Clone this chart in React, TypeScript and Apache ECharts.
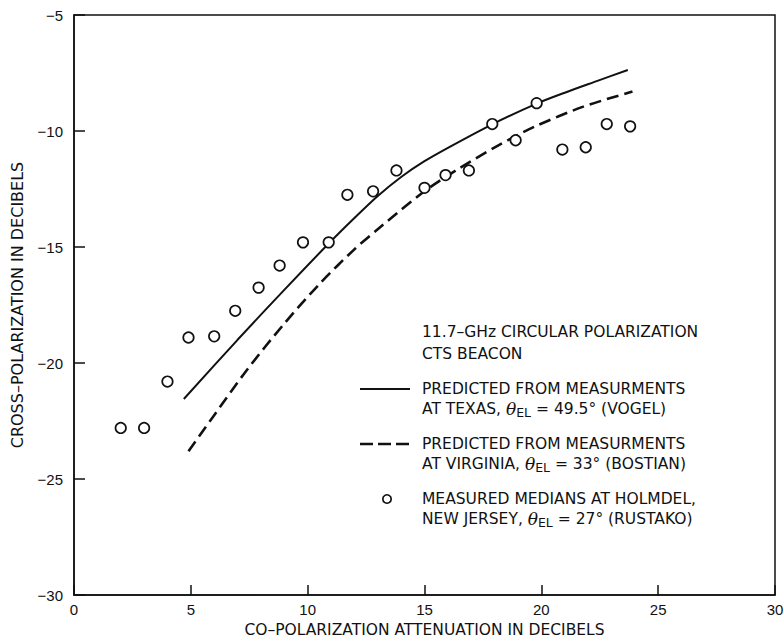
import React, { useEffect, useRef } from "react";
import * as echarts from "echarts";

// ---- data ----
const xTicks = [0, 5, 10, 15, 20, 25, 30];
const yTicks = [-30, -25, -20, -15, -10, -5];

// Measured medians at Holmdel (circles)
const measuredX = [2, 3, 4, 4.9, 6, 6.9, 7.9, 8.8, 9.8, 10.9, 11.7, 12.8, 13.8, 15, 15.9, 16.9, 17.9, 18.9, 19.8, 20.9, 21.9, 22.8, 23.8];
const measuredY = [-22.8, -22.8, -20.8, -18.9, -18.85, -17.75, -16.75, -15.8, -14.8, -14.8, -12.75, -12.6, -11.7, -12.45, -11.9, -11.7, -9.7, -10.4, -8.8, -10.8, -10.7, -9.7, -9.8];

// Predicted, Texas (Vogel) - solid
const texasX = [4.7, 7, 9, 10.9, 12, 13, 14, 15, 16.1, 17.9, 19.8, 21, 22.4, 23.7];
const texasY = [-21.55, -19.0, -16.85, -14.85, -13.75, -12.8, -11.98, -11.3, -10.67, -9.71, -8.82, -8.35, -7.84, -7.37];

// Predicted, Virginia (Bostian) - dashed
const virginiaX = [4.9, 6, 7.4, 9, 10.5, 12, 13.1, 15, 16.5, 18.2, 19.7, 21.8, 23.9];
const virginiaY = [-23.8, -22.25, -20.3, -18.3, -16.6, -15.1, -14.15, -12.6, -11.6, -10.6, -9.82, -8.95, -8.3];

const xTitle = "CO\u2013POLARIZATION ATTENUATION IN DECIBELS";
const yTitle = "CROSS\u2013POLARIZATION IN DECIBELS";
const legendHeader = ["11.7\u2013GHz CIRCULAR POLARIZATION", "CTS BEACON"];
const legendSolid = ["PREDICTED FROM MEASURMENTS", "AT TEXAS, ", " = 49.5\u00B0 (VOGEL)"];
const legendDashed = ["PREDICTED FROM MEASURMENTS", "AT VIRGINIA, ", " = 33\u00B0 (BOSTIAN)"];
const legendCircle = ["MEASURED MEDIANS AT HOLMDEL,", "NEW JERSEY, ", " = 27\u00B0 (RUSTAKO)"];

const zip = (xs: number[], ys: number[]) => xs.map((x, i) => [x, ys[i]]);

const FONT = "'Liberation Sans', Arial, Helvetica, sans-serif";
const LFONT = "'DejaVu Sans', 'Liberation Sans', sans-serif";

const richStyles = {
  a: { fontSize: 15.5, fontFamily: LFONT, fill: "#111", lineHeight: 20, verticalAlign: "middle" },
  t: { fontSize: 17, fontFamily: "'DejaVu Serif', serif", fontStyle: "italic", fill: "#111", lineHeight: 20, verticalAlign: "middle" },
  s: { fontSize: 12.5, fontFamily: LFONT, fill: "#111", lineHeight: 20, verticalAlign: "bottom" },
};

function legendText(x: number, y: number, lines: string[]) {
  return {
    type: "text",
    x,
    y,
    style: {
      text: `{a|${lines[0]}}\n{a|${lines[1]}}{t|\u03B8}{s|EL}{a|${lines[2]}}`,
      rich: richStyles,
      verticalAlign: "middle",
    },
  };
}

export default function App() {
  const ref = useRef<HTMLDivElement>(null);
  useEffect(() => {
    document.body.style.margin = "0";
    if (!ref.current) return;
    const chart = echarts.init(ref.current, undefined, { renderer: "svg" });
    const minus = (v: number) => String(v).replace("-", "\u2212");
    chart.setOption({
      animation: false,
      backgroundColor: "#fff",
      grid: {
        left: 74,
        right: 9,
        top: 15,
        bottom: 44,
        containLabel: false,
        outerBoundsMode: "none",
        show: true,
        borderColor: "#111",
        borderWidth: 1.5,
      },
      xAxis: {
        type: "value",
        min: xTicks[0],
        max: xTicks[xTicks.length - 1],
        interval: 5,
        name: xTitle,
        nameLocation: "middle",
        nameGap: 26,
        nameTextStyle: { fontSize: 15.5, fontFamily: LFONT, color: "#111" },
        axisLine: { show: true, lineStyle: { color: "#111", width: 1.5 } },
        axisTick: { show: true, inside: true, length: 10, lineStyle: { color: "#111", width: 1.5 } },
        axisLabel: { fontSize: 15, fontFamily: FONT, color: "#111", margin: 7 },
        splitLine: { show: false },
      },
      yAxis: {
        type: "value",
        min: yTicks[0],
        max: yTicks[yTicks.length - 1],
        interval: 5,
        name: yTitle,
        nameLocation: "middle",
        nameGap: 49,
        nameTextStyle: { fontSize: 16, fontFamily: LFONT, color: "#111" },
        axisLine: { show: true, lineStyle: { color: "#111", width: 1.5 } },
        axisTick: { show: true, inside: true, length: 11, lineStyle: { color: "#111", width: 1.5 } },
        axisLabel: { fontSize: 15, fontFamily: FONT, color: "#111", margin: 11, formatter: minus },
        splitLine: { show: false },
      },
      series: [
        {
          type: "line",
          data: zip(texasX, texasY),
          smooth: 0.3,
          showSymbol: false,
          symbol: "none",
          lineStyle: { color: "#111", width: 2 },
          z: 2,
        },
        {
          type: "line",
          data: zip(virginiaX, virginiaY),
          smooth: 0.3,
          showSymbol: false,
          symbol: "none",
          lineStyle: { color: "#111", width: 2.6, type: [12, 6] },
          z: 2,
        },
        {
          type: "scatter",
          data: zip(measuredX, measuredY),
          symbol: "circle",
          symbolSize: 10.5,
          itemStyle: { color: "#fff", borderColor: "#111", borderWidth: 1.7, opacity: 1 },
          z: 3,
        },
      ],
      graphic: [
        {
          type: "text",
          x: 422,
          y: 343,
          style: {
            text: legendHeader.join("\n"),
            font: `15.5px ${LFONT}`,
            fill: "#111",
            lineHeight: 22,
            verticalAlign: "middle",
          },
        },
        { type: "line", shape: { x1: 360, y1: 389, x2: 410, y2: 389 }, style: { stroke: "#111", lineWidth: 2 } },
        legendText(422, 399, legendSolid),
        { type: "line", shape: { x1: 360, y1: 444, x2: 410, y2: 444 }, style: { stroke: "#111", lineWidth: 2.6, lineDash: [13, 5] } },
        legendText(422, 454, legendDashed),
        { type: "circle", shape: { cx: 387, cy: 499, r: 4.2 }, style: { stroke: "#111", fill: "#fff", lineWidth: 1.7 } },
        legendText(422, 509, legendCircle),
      ],
    });
    return () => chart.dispose();
  }, []);
  return <div ref={ref} style={{ width: 784, height: 639 }} />;
}
